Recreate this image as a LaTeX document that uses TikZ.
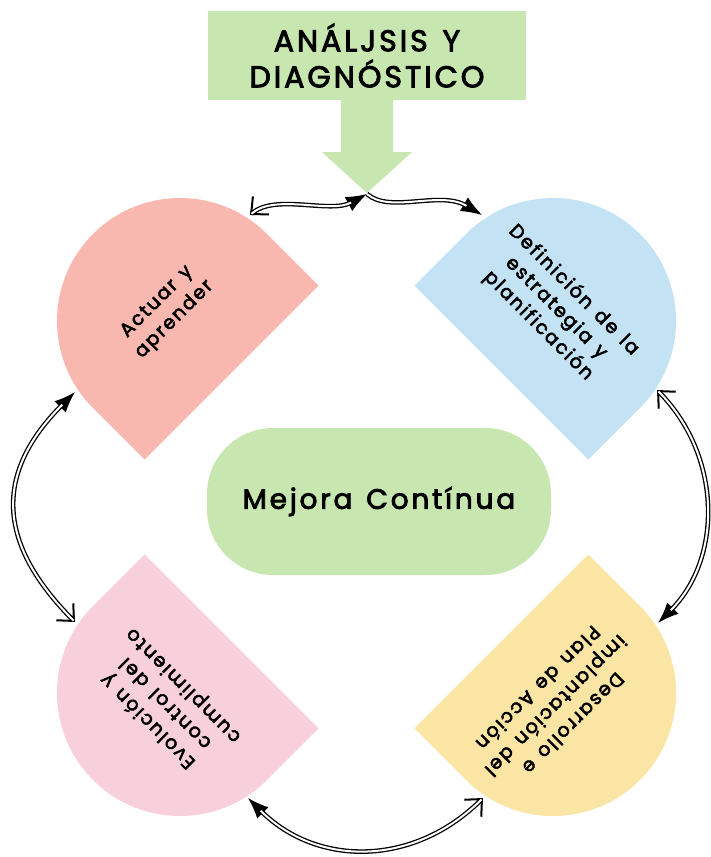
\documentclass[tikz,border=0pt]{standalone}
\usepackage{fontspec}
\setmainfont{Poppins}
\newfontfamily\headfont{Poppins}[FakeBold=3, LetterSpace=10, WordSpace=1.05]
\newfontfamily\lblfont{Poppins}[FakeBold=3, LetterSpace=10, WordSpace=1.35]
\usetikzlibrary{arrows.meta,calc}

\definecolor{salmonfill}{HTML}{F8B8AF}
\definecolor{skyfill}{HTML}{C3E2F4}
\definecolor{rosefill}{HTML}{F7D0DC}
\definecolor{sandfill}{HTML}{FBE5A4}
\definecolor{leaffill}{HTML}{C8E6B0}

\tikzset{
  banner/.style={fill=leaffill, minimum width=318pt, minimum height=89pt,
    inner sep=0pt, align=center, font=\headfont\fontsize{30}{36}\selectfont},
  pill/.style={fill=leaffill, minimum width=344pt, minimum height=147pt,
    rounded corners=66pt, inner sep=0pt, font=\headfont\fontsize{28}{32}\selectfont},
  lbl/.style={align=center, inner sep=0pt, font=\lblfont\fontsize{19}{25}\selectfont},
  headline/.style={draw=black, line width=1.3pt},
  conn/.style={draw=black, line width=1.3pt, double=white, double distance=2pt},
  fulltip/.tip={Latex[length=21pt,width=16pt]},
  opentip/.tip={Straight Barb[length=13pt,width=24pt,line width=2pt]}
}

% a connector: heads on a plain stroke, then the double line laid over it
\newcommand\linkdraw[4]{%
  \draw[headline,#1] #4;
  \draw[conn,shorten <=#2,shorten >=#3] #4;}

\begin{document}
\begin{tikzpicture}[x=1pt,y=-1pt]
\useasboundingbox (0,0) rectangle (710,857);
\fill[white] (0,0) rectangle (710,857);

% heading box and the arrow pointing into the cycle
\node[banner] (banner) at (367,55.5) {ANÁLJSIS Y\\DIAGNÓSTICO};
\fill[leaffill] (341,99) -- (341,152) -- (322,152) -- (367,193)
  -- (412,152) -- (393,152) -- (393,99) -- cycle;
\coordinate (tip) at (367,194);

% four D-shaped stages: half disc plus a straight collar
\fill[salmonfill] ($(180,321)+(135:123)$) arc[start angle=135,end angle=315,radius=123]
  -- ++(45:73) -- ++(135:246) -- cycle;
\fill[skyfill] ($(553,321)+(225:123)$) arc[start angle=225,end angle=405,radius=123]
  -- ++(135:73) -- ++(225:246) -- cycle;
\fill[rosefill] ($(180,693)+(45:123)$) arc[start angle=45,end angle=225,radius=123]
  -- ++(315:73) -- ++(45:246) -- cycle;
\fill[sandfill] ($(553,693)+(-45:123)$) arc[start angle=-45,end angle=135,radius=123]
  -- ++(225:73) -- ++(315:246) -- cycle;

\node[lbl, rotate=45]   (act) at (166,311) {Actuar y\\aprender};
\node[lbl, rotate=-45]  (def) at (556,308) {Definición de la\\estrategia y\\planificación};
\node[lbl, rotate=135]  (evo) at (166,703) {Evolución y\\control del\\cumplimiento};
\node[lbl, rotate=-135] (des) at (556,706) {Desarrollo e\\implantación del\\Plan de Acción};

% centre
\node[pill] (mejora) at (379,501.5) {Mejora Contínua};

% connector ends on the stage outlines
\coordinate (actTop) at (250,215);
\coordinate (defTop) at (482,215);
\coordinate (actLow) at (75,392);
\coordinate (evoUp)  at (75,622);
\coordinate (defLow) at (657,390);
\coordinate (desUp)  at (658,623);
\coordinate (evoLow) at (248,798);
\coordinate (desLow) at (483,798);

\linkdraw{{opentip}-{fulltip}}{2pt}{18pt}{(actTop) .. controls (275,193) and (330,214) .. (tip)}
\linkdraw{-{fulltip}}{0pt}{18pt}{(tip) .. controls (390,214) and (440,190) .. (defTop)}
\linkdraw{{fulltip}-{opentip}}{18pt}{2pt}{(actLow) .. controls (-5,472) and (-5,542) .. (evoUp)}
\linkdraw{{opentip}-{fulltip}}{2pt}{18pt}{(defLow) .. controls (722,455) and (723,558) .. (desUp)}
\linkdraw{{fulltip}-{opentip}}{18pt}{2pt}{(evoLow) .. controls (317,867) and (414,867) .. (desLow)}
\end{tikzpicture}
\end{document}
